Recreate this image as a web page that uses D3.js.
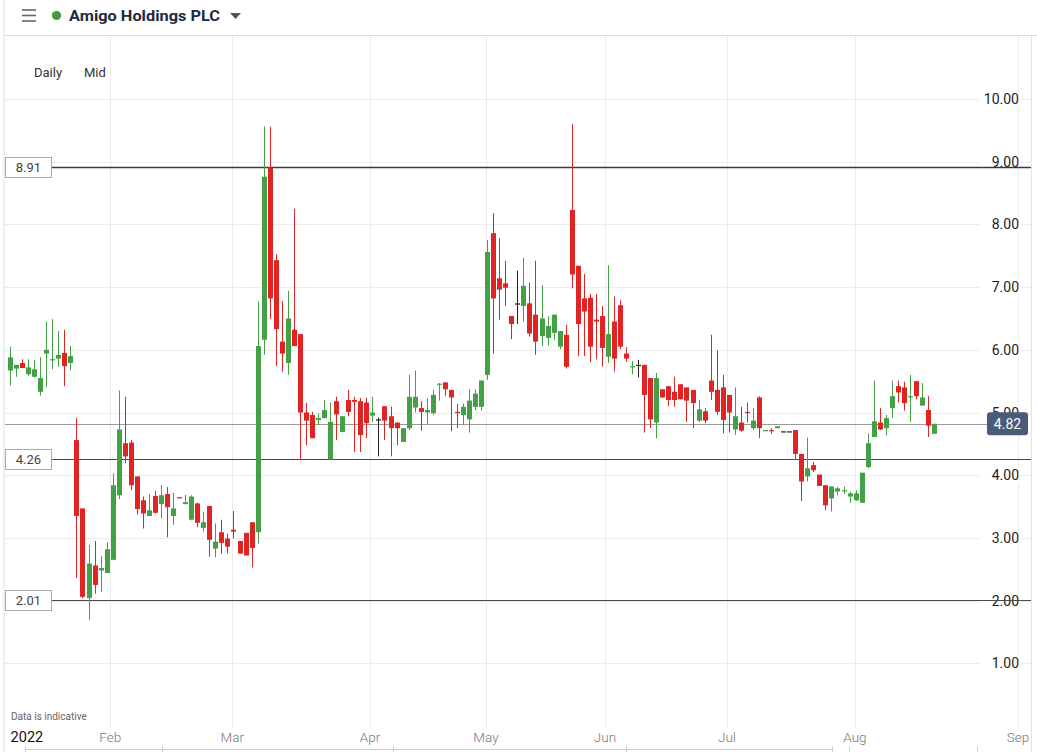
<!DOCTYPE html>
<html><head><meta charset="utf-8">
<script src="https://cdn.jsdelivr.net/npm/d3@7"></script>
<style>html,body{margin:0;padding:0;background:#fff;} svg{display:block;font-family:Roboto,"Noto Sans",sans-serif;}</style>
</head><body><svg id="c" width="1037" height="752"></svg>
<script>
// Daily candles, Amigo Holdings PLC (mid price), trading-day order
const openP = [5.67,5.70,5.79,5.61,5.57,5.33,5.94,5.84,5.86,5.95,5.79,
4.56,3.47,2.04,2.56,2.48,2.44,2.65,3.68,4.51,4.52,3.98,
3.60,3.35,3.67,3.54,3.70,3.35,3.65,3.54,3.29,3.55,3.16,3.51,2.83,3.09,2.99,3.13,2.95,3.08,3.25,
3.09,6.16,8.91,7.43,6.13,5.79,6.32,6.25,5.00,4.96,4.88,4.91,4.25,5.18,4.69,5.20,5.20,5.18,5.16,4.95,4.89,5.10,4.94,4.84,4.53,4.75,
5.08,5.07,5.00,4.99,5.45,5.48,5.36,5.01,4.96,4.89,5.09,5.09,
5.60,7.86,7.14,7.06,6.54,6.74,6.70,6.74,6.56,6.22,6.19,6.27,6.05,6.24,8.23,7.34,6.82,6.83,6.48,6.54,5.89,6.45,6.71,5.94,
5.72,5.76,5.76,5.55,4.84,5.37,5.42,5.33,5.45,5.40,5.36,4.87,5.02,5.51,5.36,5.40,5.28,4.73,4.84,5.01,4.75,5.24,4.71,4.72,4.75,
4.70,4.70,
4.72,4.34,3.98,4.16,4.01,3.84,3.63,3.74,3.75,3.66,3.60,3.56,4.13,
4.61,4.84,4.75,5.07,5.42,5.40,5.24,5.50,5.11,5.04,4.66];
const highP = [6.05,5.76,5.85,5.85,5.84,5.88,6.45,6.49,6.30,6.32,6.06,
4.91,3.47,2.89,2.95,2.71,2.93,4.03,5.35,5.25,4.56,3.98,
3.66,3.70,3.75,3.84,3.81,3.72,3.65,3.69,3.68,3.56,3.41,3.51,3.23,3.29,3.07,3.43,2.95,3.08,3.25,
6.77,9.56,9.56,7.53,6.78,6.94,8.25,6.25,5.15,5.01,4.99,5.20,5.16,5.25,4.94,5.36,5.25,5.23,5.23,5.25,4.92,5.10,5.09,4.84,4.75,5.60,
5.67,5.18,5.23,5.36,5.47,5.48,5.36,5.14,5.14,5.37,5.37,5.51,
7.75,8.18,7.78,7.42,6.54,7.26,7.47,7.07,7.42,7.03,6.54,6.56,6.30,6.40,9.60,7.34,7.21,6.89,6.89,6.70,7.35,6.85,6.79,6.04,
5.82,5.84,5.76,5.55,5.63,5.37,5.42,5.57,5.45,5.40,5.36,5.20,5.07,6.24,5.99,5.60,5.28,5.40,5.09,5.16,5.07,5.26,4.72,4.75,4.78,
4.70,4.70,
4.72,4.34,4.60,4.21,4.01,3.84,3.82,3.81,3.82,3.74,3.76,4.04,4.67,
5.51,5.07,4.96,5.51,5.51,5.49,5.60,5.50,5.47,5.26,4.82];
const lowP = [5.43,5.57,5.71,5.58,5.56,5.27,5.41,5.69,5.73,5.42,5.67,
2.36,2.04,1.69,2.11,2.14,2.44,2.65,3.62,4.19,3.76,3.37,
3.15,3.35,3.39,3.31,3.01,3.21,3.64,3.53,3.28,3.17,3.10,2.70,2.69,2.75,2.75,2.99,2.75,2.72,2.53,
2.91,5.92,6.49,5.74,5.65,5.60,6.06,4.24,4.48,4.59,4.80,4.91,4.25,4.56,4.69,4.94,4.37,4.37,4.59,4.85,4.30,4.56,4.30,4.48,4.53,4.72,
5.00,4.71,4.82,4.96,5.19,5.26,4.70,4.75,4.80,4.68,5.04,5.03,
5.52,5.94,6.48,6.70,6.17,6.41,6.45,6.21,5.92,6.06,6.07,6.16,6.01,5.70,6.98,5.90,5.90,5.80,5.85,5.73,5.79,5.65,6.01,5.81,
5.61,5.56,4.68,4.75,4.59,5.23,5.10,5.09,5.21,4.85,4.75,4.85,4.83,5.20,4.96,4.67,4.68,4.64,4.69,4.84,4.72,4.59,4.71,4.66,4.75,
4.70,4.70,
4.24,3.59,3.90,4.05,3.83,3.44,3.42,3.68,3.70,3.56,3.59,3.56,4.11,
4.61,4.72,4.64,4.91,5.16,5.03,4.85,5.21,5.11,4.61,4.66];
const closeP = [5.88,5.76,5.71,5.72,5.69,5.55,6.00,5.85,5.92,5.74,5.90,
3.35,2.06,2.59,2.25,2.52,2.82,3.84,4.73,4.30,3.84,3.46,
3.39,3.44,3.40,3.68,3.49,3.47,3.64,3.57,3.66,3.24,3.25,2.97,2.94,2.92,2.86,3.10,2.75,2.72,2.84,
6.06,8.76,6.82,6.33,5.94,6.50,6.06,5.00,4.87,4.59,4.91,5.04,4.85,4.97,4.94,5.01,5.17,4.64,4.83,5.00,4.89,4.87,4.75,4.75,4.75,5.25,
5.25,5.01,5.04,5.28,5.46,5.37,5.24,4.99,5.09,5.19,5.30,5.51,
7.56,6.82,6.96,6.99,6.41,6.74,7.02,6.26,6.13,6.50,6.38,6.56,6.30,5.73,7.20,6.41,6.61,6.05,6.45,6.03,6.25,5.86,6.05,5.86,
5.74,5.76,5.28,4.89,5.55,5.24,5.20,5.20,5.21,5.19,5.15,5.05,4.87,5.33,5.01,4.88,5.00,4.94,4.71,4.99,4.87,4.75,4.72,4.70,4.78,
4.70,4.70,
4.34,3.90,4.11,4.08,3.83,3.52,3.82,3.79,3.76,3.71,3.71,4.04,4.51,
4.86,4.73,4.91,5.26,5.32,5.15,5.26,5.26,5.24,4.79,4.82];

const yTicks = [1,2,3,4,5,6,7,8,9,10];
const monthLabels = ["2022","Feb","Mar","Apr","May","Jun","Jul","Aug","Sep"];
const monthPos = [2.8,16.6,36.8,59.6,78.8,98.5,118.7,139.9,166.9]; // in trading-day index units
const levels = [8.91, 4.26, 2.01];
const lastPrice = 4.82;

const candles = openP.map((o,i)=>({i, o, h:highP[i], l:lowP[i], c:closeP[i]}));

const svg = d3.select("#c");
const x = d3.scaleLinear().domain([0,153]).range([10,934.1]);
const y = d3.scaleLinear().domain([0,10]).range([726,99]);

const GREEN="#43a047", RED="#e02424", BLACK="#222";
const col = d=> d.c>d.o?GREEN:(d.c<d.o?RED:BLACK);

// frame
svg.append("line").attr("x1",4).attr("x2",4).attr("y1",0).attr("y2",752).attr("stroke","#ddd");
svg.append("line").attr("x1",4).attr("x2",1037).attr("y1",35.5).attr("y2",35.5).attr("stroke","#ddd");
svg.append("line").attr("x1",1031.5).attr("x2",1031.5).attr("y1",36).attr("y2",752).attr("stroke","#e3e3e3");

// header
const hdr = svg.append("g");
[10,15.5,21].forEach(v=>hdr.append("line").attr("x1",22).attr("x2",36).attr("y1",v).attr("y2",v).attr("stroke","#666").attr("stroke-width",1.6));
hdr.append("circle").attr("cx",56.5).attr("cy",15.5).attr("r",4.6).attr("fill","#3c9b3c");
hdr.append("text").attr("x",69).attr("y",21).attr("font-size",15.5).attr("font-weight",700).attr("fill","#1f2940")
  .attr("textLength",151).attr("lengthAdjust","spacingAndGlyphs").text("Amigo Holdings PLC");
hdr.append("path").attr("d","M230,13 L241,13 L235.5,19 Z").attr("fill","#555");

// gridlines
const grid = svg.append("g");
yTicks.forEach(t=>grid.append("line").attr("x1",5).attr("x2",1031).attr("y1",Math.round(y(t))+0.5).attr("y2",Math.round(y(t))+0.5).attr("stroke","#ececec"));
monthPos.slice(1).forEach(p=>grid.append("line").attr("x1",Math.round(x(p))+0.5).attr("x2",Math.round(x(p))+0.5).attr("y1",36).attr("y2",728).attr("stroke","#ececec"));

svg.append("text").attr("x",34).attr("y",76.5).attr("font-size",13).attr("fill","#333").text("Daily");
svg.append("text").attr("x",84).attr("y",76.5).attr("font-size",13).attr("fill","#333").text("Mid");

// y axis labels with white backing
const yl = svg.append("g");
yTicks.forEach(t=>{
  const yy = y(t);
  yl.append("rect").attr("x",980).attr("y",yy-8).attr("width",41).attr("height",16).attr("fill","#fff");
  yl.append("text").attr("x",1019).attr("y",yy).attr("dy","0.36em").attr("text-anchor","end")
    .attr("font-size",14).attr("fill","#222").text(d3.format(".2f")(t));
});

// last price line
svg.append("line").attr("x1",5).attr("x2",987).attr("y1",Math.round(y(lastPrice))+0.5).attr("y2",Math.round(y(lastPrice))+0.5).attr("stroke","#9a9a9a");

// level lines with left boxes
levels.forEach((v,k)=>{
  const yy = Math.round(y(v))+0.5;
  svg.append("line").attr("x1",52).attr("x2",1031).attr("y1",yy).attr("y2",yy)
    .attr("stroke", k===0?"#3a3a3a":"#4a4a4a").attr("stroke-width",k===0?1.6:1);
  svg.append("rect").attr("x",5.5).attr("y",yy-10).attr("width",46).attr("height",20).attr("fill","#fff").attr("stroke","#aaa");
  svg.append("text").attr("x",28.5).attr("y",yy).attr("dy","0.36em").attr("text-anchor","middle").attr("font-size",13).attr("fill","#444").text(d3.format(".2f")(v));
});

// candles
const cg = svg.append("g");
const bw = 5;
cg.selectAll("line.w").data(candles).join("line").attr("class","w")
  .attr("x1",d=>Math.round(x(d.i))+0.5).attr("x2",d=>Math.round(x(d.i))+0.5)
  .attr("y1",d=>y(d.h)).attr("y2",d=>y(d.l)).attr("stroke",col).attr("stroke-width",1);
cg.selectAll("rect.b").data(candles).join("rect").attr("class","b")
  .attr("x",d=>Math.round(x(d.i))+0.5-bw/2).attr("width",bw)
  .attr("y",d=>y(Math.max(d.o,d.c)))
  .attr("height",d=>Math.max(1.2, Math.abs(y(d.o)-y(d.c))))
  .attr("fill",col);

// price badge
const by = y(lastPrice);
svg.append("rect").attr("x",987).attr("y",by-11.5).attr("width",41).attr("height",23).attr("rx",3).attr("fill","#4a5a79");
svg.append("text").attr("x",1007.5).attr("y",by).attr("dy","0.36em").attr("text-anchor","middle").attr("font-size",14).attr("fill","#fff").text(d3.format(".2f")(lastPrice));

// x labels
svg.append("text").attr("x",11).attr("y",720).attr("font-size",10).attr("fill","#666").text("Data is indicative");
monthLabels.forEach((m,k)=>{
  svg.append("text").attr("x",x(monthPos[k])).attr("y",742).attr("text-anchor","middle")
    .attr("font-size",k===0?14.5:13.5).attr("font-weight",k===0?400:300)
    .attr("fill",k===0?"#111":"#777").text(m);
});

// navigator hint at bottom
svg.append("line").attr("x1",25).attr("x2",832).attr("y1",749.5).attr("y2",749.5).attr("stroke","#ccc");
[25,162,393,626,832,849,977].forEach(v=>svg.append("line").attr("x1",v+0.5).attr("x2",v+0.5).attr("y1",746).attr("y2",752).attr("stroke","#ccc"));
</script></body></html>
